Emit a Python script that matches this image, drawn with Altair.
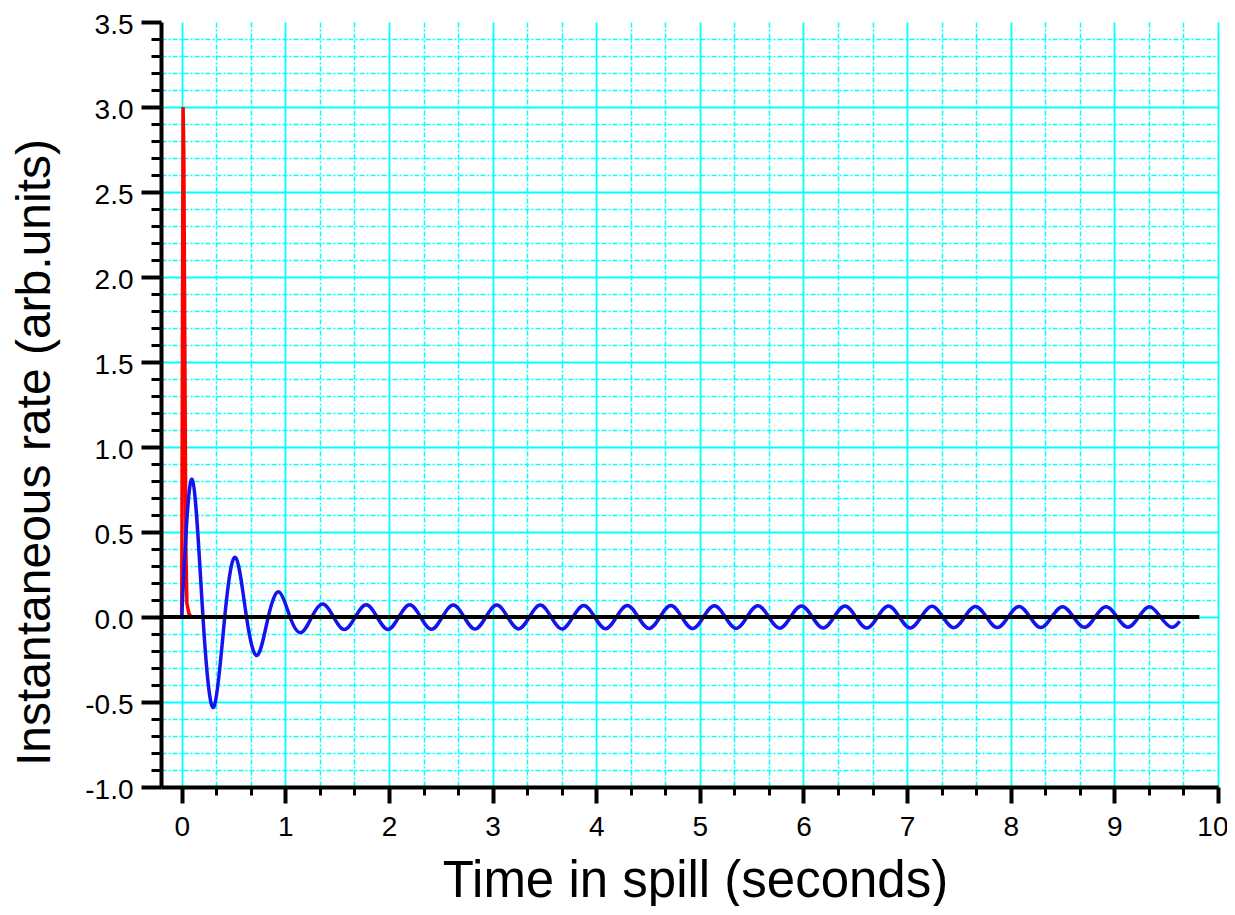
import altair as alt
import pandas as pd

# ---- data ----
red_t = [0.0, 0.013, 0.020, 0.040, 0.050, 0.070, 0.090, 9.62]
red_v = [0.0, 3.00, 2.75, 0.40, 0.08, 0.02, 0.0, 0.0]

blue_t = [
    0.000,
    0.100, 0.205, 0.310, 0.415,
    0.520, 0.625, 0.730, 0.835,
    0.940, 1.045, 1.150, 1.255,
    1.360, 1.465, 1.570, 1.675,
    1.780, 1.885, 1.990, 2.095,
    2.200, 2.305, 2.410, 2.515,
    2.620, 2.725, 2.830, 2.935,
    3.040, 3.145, 3.250, 3.355,
    3.460, 3.565, 3.670, 3.775,
    3.880, 3.985, 4.090, 4.195,
    4.300, 4.405, 4.510, 4.615,
    4.720, 4.825, 4.930, 5.035,
    5.140, 5.245, 5.350, 5.455,
    5.560, 5.665, 5.770, 5.875,
    5.980, 6.085, 6.190, 6.295,
    6.400, 6.505, 6.610, 6.715,
    6.820, 6.925, 7.030, 7.135,
    7.240, 7.345, 7.450, 7.555,
    7.660, 7.765, 7.870, 7.975,
    8.080, 8.185, 8.290, 8.395,
    8.500, 8.605, 8.710, 8.815,
    8.920, 9.025, 9.130, 9.235,
    9.340, 9.445, 9.550, 9.630,
]
blue_v = [
    0.0,
    0.81, 0.0, -0.53, 0.0,
    0.35, 0.0, -0.225, 0.0,
    0.147, 0.0, -0.092, 0.0,
    0.076, 0.0, -0.074, 0.0,
    0.072, 0.0, -0.073, 0.0,
    0.072, 0.0, -0.072, 0.0,
    0.070, 0.0, -0.071, 0.0,
    0.070, 0.0, -0.070, 0.0,
    0.070, 0.0, -0.070, 0.0,
    0.068, 0.0, -0.069, 0.0,
    0.068, 0.0, -0.068, 0.0,
    0.067, 0.0, -0.068, 0.0,
    0.066, 0.0, -0.067, 0.0,
    0.066, 0.0, -0.066, 0.0,
    0.065, 0.0, -0.065, 0.0,
    0.065, 0.0, -0.065, 0.0,
    0.064, 0.0, -0.064, 0.0,
    0.063, 0.0, -0.063, 0.0,
    0.062, 0.0, -0.062, 0.0,
    0.062, 0.0, -0.062, 0.0,
    0.061, 0.0, -0.061, 0.0,
    0.060, 0.0, -0.060, 0.0,
    0.060, 0.0, -0.060, -0.025,
]

zero_t = [-0.2, 9.82]
zero_v = [0.0, 0.0]

x_major = [0, 1, 2, 3, 4, 5, 6, 7, 8, 9, 10]
x_minor = [i + f for i in range(10) for f in (1 / 3, 2 / 3)]
y_major = [-1.0, -0.5, 0.0, 0.5, 1.0, 1.5, 2.0, 2.5, 3.0, 3.5]
y_minor = [round(-1.0 + 0.1 * k, 1) for k in range(46) if k % 5 != 0]

red_df = pd.DataFrame({"t": red_t, "v": red_v})
blue_df = pd.DataFrame({"t": blue_t, "v": blue_v})
zero_df = pd.DataFrame({"t": zero_t, "v": zero_v})

FONT = "Liberation Sans"
CYAN = "#00FFFF"

xs = alt.Scale(domain=[-0.2, 10], nice=False, zero=False)
ys = alt.Scale(domain=[-1.0, 3.5], nice=False, zero=False)

x_minor_axis = alt.Axis(
    values=x_minor, orient="bottom", title="", labels=False, domain=False,
    tickSize=8, tickWidth=3, tickColor="black",
    grid=True, gridColor=CYAN, gridWidth=1.5, gridDash=[5, 2, 2, 2],
)
y_minor_axis = alt.Axis(
    values=y_minor, orient="left", title="", labels=False, domain=False,
    tickSize=10, tickWidth=3, tickColor="black",
    grid=True, gridColor=CYAN, gridWidth=1.5, gridDash=[5, 2, 2, 2],
)
x_major_axis = alt.Axis(
    values=x_major, orient="bottom", format="d",
    domain=True, domainColor="black", domainWidth=4,
    tickSize=16, tickWidth=4, tickColor="black",
    labelFont=FONT, labelFontSize=28, labelColor="black", labelPadding=10,
    labelFlush=1, labelFlushOffset=10, labelOverlap=False,
    grid=True, gridColor=CYAN, gridWidth=1.8,
    title="Time in spill (seconds)", titleFont=FONT, titleFontSize=51,
    titleFontWeight="normal", titleColor="black",
    titleX=534, titleY=109, titleAlign="center", titleBaseline="alphabetic",
)
y_major_axis = alt.Axis(
    values=y_major, orient="left",
    labelExpr="datum.value < 0 ? '-' + format(-datum.value, '.1f') : format(datum.value, '.1f')",
    domain=True, domainColor="black", domainWidth=4,
    tickSize=20, tickWidth=4, tickColor="black",
    labelFont=FONT, labelFontSize=28, labelColor="black", labelPadding=8,
    labelOffset=3, labelOverlap=False,
    grid=True, gridColor=CYAN, gridWidth=1.8,
    gridOpacity={"condition": {"test": "datum.value > 3.4", "value": 0}, "value": 1},
    title="Instantaneous rate (arb.units)", titleFont=FONT, titleFontSize=48,
    titleFontWeight="normal", titleColor="black", titleAngle=-90,
    titleX=-112, titleY=430, titleAlign="center", titleBaseline="alphabetic",
)

red = alt.Chart(red_df).mark_line(color="#FF0000", strokeWidth=3.5).encode(
    x=alt.X("t:Q", scale=xs, axis=x_minor_axis),
    y=alt.Y("v:Q", scale=ys, axis=y_minor_axis),
    order="t:Q",
)
blue = alt.Chart(blue_df).mark_line(color="#1414EE", strokeWidth=3.5, interpolate="natural").encode(
    x=alt.X("t:Q", scale=xs, axis=x_major_axis),
    y=alt.Y("v:Q", scale=ys, axis=y_major_axis),
    order="t:Q",
)
zero = alt.Chart(zero_df).mark_line(color="black", strokeWidth=4).encode(
    x=alt.X("t:Q", scale=xs, axis=None),
    y=alt.Y("v:Q", scale=ys, axis=None),
)

chart = (
    alt.layer(red, blue, zero)
    .resolve_axis(x="independent", y="independent")
    .properties(
        width=1057, height=765,
        autosize=alt.AutoSizeParams(type="none"),
        padding={"left": 153, "top": 14, "right": 9, "bottom": 119},
        background="white",
    )
    .configure_view(stroke=None)
)

chart.save("out.html", embed_options={"renderer": "svg", "actions": False})
